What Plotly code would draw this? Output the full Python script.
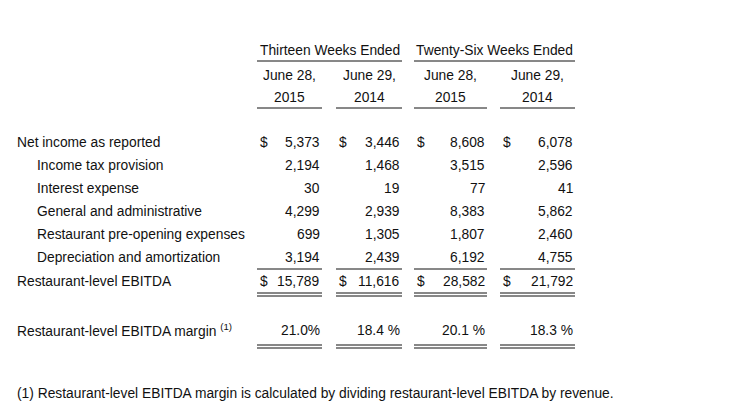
import plotly.graph_objects as go

title = "The following table includes a reconciliation of net income to restaurant-level EBITDA (dollars in thousands):"
groups = ["Thirteen Weeks Ended", "Twenty-Six Weeks Ended"]
col_dates = ["June 28,", "June 29,", "June 28,", "June 29,"]
col_years = ["2015", "2014", "2015", "2014"]
row_labels = ["Net income as reported", "Income tax provision", "Interest expense",
              "General and administrative", "Restaurant pre-opening expenses",
              "Depreciation and amortization", "Restaurant-level EBITDA"]
net_income = ["5,373", "3,446", "8,608", "6,078"]
tax = ["2,194", "1,468", "3,515", "2,596"]
interest = ["30", "19", "77", "41"]
gna = ["4,299", "2,939", "8,383", "5,862"]
preopen = ["699", "1,305", "1,807", "2,460"]
dna = ["3,194", "2,439", "6,192", "4,755"]
ebitda = ["15,789", "11,616", "28,582", "21,792"]
margin_label = "Restaurant-level EBITDA margin <sup>(1)</sup>"
margin = ["21.0%", "18.4 %", "20.1 %", "18.3 %"]
footnote = "(1) Restaurant-level EBITDA margin is calculated by dividing restaurant-level EBITDA by revenue."

# layout (pixel-like coordinates, page body adds 8px offset)
OX, OY = -8, -8
col_left = [257, 336, 414, 500]
col_right = [322, 402, 487, 575]
row_y = [142, 165, 188, 211, 234, 257, 281]
indent = [15, 35, 35, 35, 35, 35, 15]
F = "Liberation Sans, Arial, sans-serif"
fs = 13.8

fig = go.Figure()
ann = []
def t(x, y, s, anchor="left", bold=False, size=fs):
    ann.append(dict(x=x + OX, y=y + OY, text=f"<b>{s}</b>" if bold else s, xref="x", yref="y",
                    xanchor=anchor, yanchor="middle", showarrow=False,
                    font=dict(family=F, size=size, color="#111")))

t(5, 17, title, bold=True, size=13.9)
for i, g in enumerate(groups):
    cx = (col_left[2 * i] + col_right[2 * i + 1]) / 2
    t(cx, 50, g, "center")
for i in range(4):
    cx = (col_left[i] + col_right[i]) / 2
    t(cx, 75, col_dates[i], "center")
    t(cx, 97, col_years[i], "center")

rows = [net_income, tax, interest, gna, preopen, dna, ebitda]
for r, (lab, vals) in enumerate(zip(row_labels, rows)):
    t(indent[r], row_y[r], lab)
    for c in range(4):
        if r in (0, 6):
            t(col_left[c] + 1, row_y[r], "$")
        t(col_right[c], row_y[r], vals[c], "right")

t(15, 330, margin_label)
for c in range(4):
    t(col_right[c], 330, margin[c], "right")
t(15, 393, footnote)

shapes = []
def line(x0, x1, y):
    shapes.append(dict(type="line", x0=x0 + OX, x1=x1 + OX, y0=y + OY, y1=y + OY,
                       xref="x", yref="y", line=dict(color="#111", width=1)))
line(col_left[0], col_right[1], 61)
line(col_left[2], col_right[3], 61)
for c in range(4):
    line(col_left[c], col_right[c], 108)
    line(col_left[c], col_right[c], 269)
    line(col_left[c], col_right[c], 293)
    line(col_left[c], col_right[c], 296)
    line(col_left[c], col_right[c], 345)
    line(col_left[c], col_right[c], 348)

fig.update_layout(width=752, height=418, margin=dict(l=0, r=0, t=0, b=0),
                  paper_bgcolor="white", plot_bgcolor="white",
                  annotations=ann, shapes=shapes, showlegend=False,
                  xaxis=dict(range=[0, 752], visible=False, fixedrange=True),
                  yaxis=dict(range=[418, 0], visible=False, fixedrange=True))
fig.write_html("out.html")
